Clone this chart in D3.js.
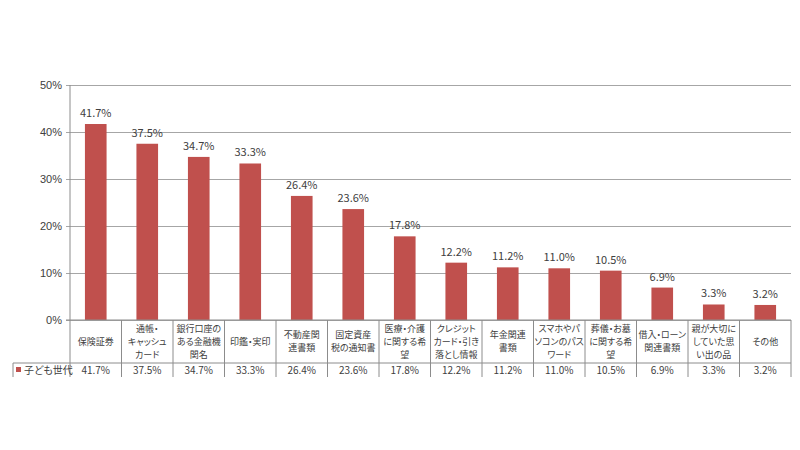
<!DOCTYPE html>
<html>
<head>
<meta charset="utf-8">
<script src="https://cdn.jsdelivr.net/npm/d3@7"></script>
<style>
  body { margin: 0; background: #fff; }
  svg { font-family: "Noto Sans CJK JP", sans-serif; font-feature-settings: "palt"; }
  .grid line { stroke: #a6a6a6; }
  .grid path { display: none; }
  .tick text { fill: #404040; font-size: 11px; }
  .bar-value { fill: #404040; font-size: 11px; }
  .cat-label { fill: #404040; font-size: 9px; }
  .row-value, .legend-label { fill: #404040; font-size: 10px; }
  .table-line { stroke: #8c8c8c; stroke-width: 1; }
</style>
</head>
<body>
<svg id="chart" width="800" height="450"></svg>
<script>
// Data
const seriesName = "子ども世代";
const categories = [
  "保険証券",
  "通帳・\nキャッシュ\nカード",
  "銀行口座の\nある金融機\n関名",
  "印鑑・実印",
  "不動産関\n連書類",
  "固定資産\n税の通知書",
  "医療・介護\nに関する希\n望",
  "クレジット\nカード・引き\n落とし情報",
  "年金関連\n書類",
  "スマホやパ\nソコンのパス\nワード",
  "葬儀・お墓\nに関する希\n望",
  "借入・ローン\n関連書類",
  "親が大切に\nしていた思\nい出の品",
  "その他"
];
const values = [41.7, 37.5, 34.7, 33.3, 26.4, 23.6, 17.8, 12.2, 11.2, 11.0, 10.5, 6.9, 3.3, 3.2];
const yTicks = [0, 10, 20, 30, 40, 50];

// Layout
const plot = { left: 70, right: 791, top: 85, bottom: 320 };
const catRowBottom = 363;
const valRowBottom = 377;
const legendLeft = 13;
const barColor = "#c0504d";

const svg = d3.select("#chart");

const x = d3.scaleBand()
  .domain(d3.range(categories.length))
  .range([plot.left, plot.right])
  .paddingInner(0.58)
  .paddingOuter(0.29);

const colX = d3.scaleLinear()
  .domain([0, categories.length])
  .range([plot.left, plot.right]);

const y = d3.scaleLinear().domain([0, 50]).range([plot.bottom, plot.top]);

// Gridlines + y labels
svg.append("g")
  .attr("class", "grid")
  .attr("transform", `translate(${plot.left},0)`)
  .call(d3.axisLeft(y)
    .tickValues(yTicks)
    .tickSize(-(plot.right - plot.left))
    .tickPadding(8)
    .tickFormat((d) => d + "%"))
  .call((g) => g.selectAll(".tick line").attr("x1", -4));

// Y axis line
svg.append("line")
  .attr("class", "table-line")
  .attr("x1", plot.left).attr("x2", plot.left)
  .attr("y1", plot.top).attr("y2", valRowBottom);

// Bars
svg.selectAll("rect.bar")
  .data(values)
  .enter()
  .append("rect")
  .attr("class", "bar")
  .attr("x", (d, i) => x(i))
  .attr("width", x.bandwidth())
  .attr("y", (d) => y(d))
  .attr("height", (d) => y(0) - y(d))
  .attr("fill", barColor);

// Bar values
svg.selectAll("text.bar-value")
  .data(values)
  .enter()
  .append("text")
  .attr("class", "bar-value")
  .attr("text-anchor", "middle")
  .attr("x", (d, i) => x(i) + x.bandwidth() / 2)
  .attr("y", (d) => y(d) - 7)
  .text((d) => d.toFixed(1) + "%");

// Data table
const tbl = svg.append("g");

// horizontal lines
tbl.append("line").attr("class", "table-line")
  .attr("x1", plot.left - 4).attr("x2", plot.right)
  .attr("y1", plot.bottom).attr("y2", plot.bottom);
tbl.append("line").attr("class", "table-line")
  .attr("x1", legendLeft).attr("x2", plot.right)
  .attr("y1", catRowBottom).attr("y2", catRowBottom);

// vertical lines
tbl.selectAll("line.col")
  .data(d3.range(1, categories.length + 1))
  .enter()
  .append("line")
  .attr("class", "table-line col")
  .attr("x1", (d) => colX(d)).attr("x2", (d) => colX(d))
  .attr("y1", plot.bottom).attr("y2", valRowBottom);
tbl.append("line").attr("class", "table-line")
  .attr("x1", legendLeft).attr("x2", legendLeft)
  .attr("y1", catRowBottom).attr("y2", valRowBottom);

// category labels, one text per line
const lineH = 13;
const catMid = (plot.bottom + catRowBottom) / 2;
categories.forEach((d, i) => {
  const lines = d.split("\n");
  const cx = colX(i + 0.5);
  const y0 = catMid - ((lines.length - 1) * lineH) / 2 + 3;
  tbl.selectAll(null)
    .data(lines)
    .enter()
    .append("text")
    .attr("class", "cat-label")
    .attr("text-anchor", "middle")
    .attr("x", cx)
    .attr("y", (ln, k) => y0 + k * lineH)
    .text((ln) => ln);
});

// value row
tbl.selectAll("text.row-value")
  .data(values)
  .enter()
  .append("text")
  .attr("class", "row-value")
  .attr("text-anchor", "middle")
  .attr("x", (d, i) => colX(i + 0.5))
  .attr("y", (catRowBottom + valRowBottom) / 2 + 3.5)
  .text((d) => d.toFixed(1) + "%");

// legend cell
tbl.append("rect")
  .attr("x", legendLeft + 3)
  .attr("y", (catRowBottom + valRowBottom) / 2 - 3)
  .attr("width", 5).attr("height", 5)
  .attr("fill", barColor);
tbl.append("text")
  .attr("class", "legend-label")
  .attr("x", legendLeft + 11)
  .attr("y", (catRowBottom + valRowBottom) / 2 + 3.5)
  .text(seriesName);
</script>
</body>
</html>
